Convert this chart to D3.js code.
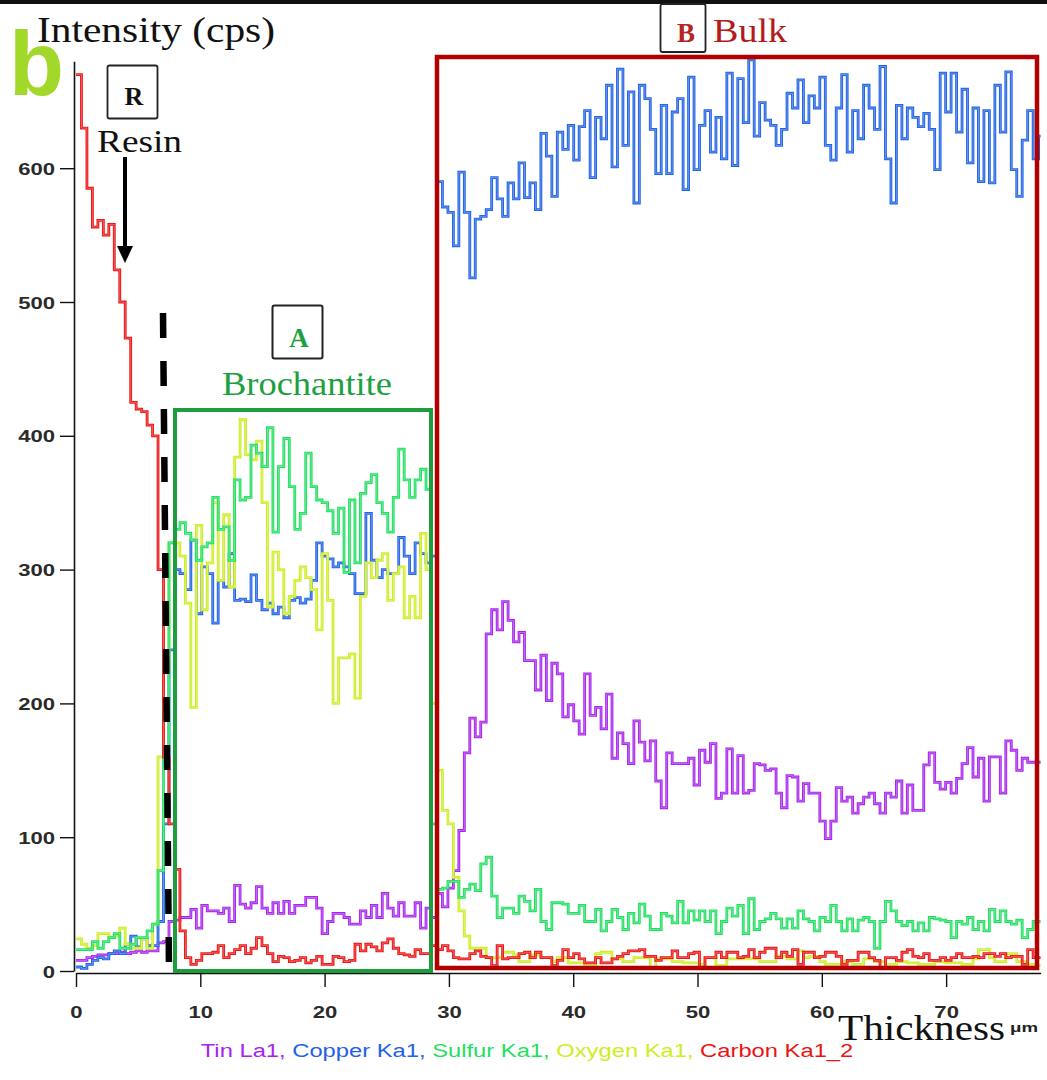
<!DOCTYPE html>
<html>
<head>
<meta charset="utf-8">
<script src="https://cdn.jsdelivr.net/npm/d3@7"></script>
<style>
  html, body { margin: 0; padding: 0; background: #fff; }
  svg { display: block; }
</style>
</head>
<body>
<script>
// ---------------- DATA ----------------
const STEP_UM = 0.44;               // line-scan step (µm)
const xDomain = [0, 77.6];
const yDomain = [0, 680];
const xTicksMajor = [0, 10, 20, 30, 40, 50, 60, 70];
const yTicksMajor = [0, 100, 200, 300, 400, 500, 600];
const legendNames = ["Tin La1", "Copper Ka1", "Sulfur Ka1", "Oxygen Ka1", "Carbon Ka1_2"];

const tinLa1 = [
  8, 8, 10, 11, 12, 12, 13, 13, 14, 13, 14, 15, 14, 15, 15,
  21, 22, 37, 38,
  40, 40, 46, 32, 49, 45, 45, 43, 47, 37,
  64, 50, 47, 51, 63, 47, 43, 51, 43, 52,
  43, 49, 49, 55, 55, 47, 28, 37, 43, 43,
  40, 35, 35, 45, 40, 49, 40, 58, 47, 41,
  51, 41, 41, 51, 32, 47,
  40, 58, 48, 62, 75, 105,
  163, 189, 175, 186, 252, 270, 255, 276, 262, 246,
  253, 232, 232, 210, 236, 202, 230, 222, 190, 199,
  187, 177, 222, 191, 197, 181, 207, 159, 178, 170,
  155, 187, 171, 157, 172, 142, 122, 163, 155, 155,
  155, 159, 139, 165, 156, 170, 129, 133, 166, 133,
  161,
  133, 135, 155, 154, 150, 151, 133, 122, 146, 145,
  127, 140, 133, 133, 112, 99, 112, 137, 127, 130,
  118, 125, 130, 133, 125, 118, 133, 130, 142, 118,
  139, 120, 120, 154, 163, 141, 136, 141, 133, 144,
  155, 167, 145, 159, 127, 160, 160, 133, 172, 165,
  150, 159, 156, 156, 156
];

const copperKa1 = [
  3, 2, 5, 8, 10, 9, 13, 15, 13, 20, 26, 18, 24, 19, 19,
  37, 110, 240, 300,
  297, 285, 322, 267, 302, 297, 260, 292, 287, 312,
  277, 278, 276, 296, 277, 270, 275, 267, 272, 264,
  277, 279, 275, 278, 292, 320, 310, 308, 302, 305,
  302, 297, 282, 282, 342, 307, 294, 300, 297, 297,
  324, 310, 297, 320, 312, 305, 310,
  590, 571, 567, 542, 597, 567, 518, 562, 564, 569,
  593, 577, 564, 589, 577, 604, 578, 589, 569, 626,
  609, 579, 627, 614, 632, 606, 631, 643, 593, 638,
  622, 662, 601, 674, 617, 657, 574, 662, 652, 629,
  596, 647, 596, 642, 652, 584, 668, 599, 632, 643,
  612, 638, 607, 671, 602, 667, 634, 681, 624, 649,
  636, 632, 617, 629, 656, 645, 666, 634, 654, 645,
  668, 617, 606, 645, 670, 612, 643, 622, 662, 645,
  629, 676, 607, 574, 647, 622, 645, 638, 631, 641,
  629, 599, 671, 642, 671, 627, 659, 604, 645, 590,
  643, 589, 662, 627, 672, 599, 579, 621, 643, 607,
  624
];

const sulfurKa1 = [
  16, 16, 16, 22, 17, 22, 25, 28, 17, 17, 20, 25, 25, 30, 35,
  75, 165, 320, 330,
  335, 327, 322, 307, 317, 320, 354, 330, 332, 307,
  367, 352, 354, 393, 387, 377, 406, 328, 377, 398,
  362, 330, 342, 387, 362, 352, 350, 344, 327, 346,
  298,
  352, 305, 357, 365, 371, 350, 342, 328, 354, 390, 367, 354, 367, 375, 360,
  110,
  61, 62, 67, 67, 55, 61, 65, 60, 80, 85,
  56, 40, 47, 47, 43, 56, 52, 45, 61, 37,
  31, 51, 51, 50, 43, 43, 49, 37, 37, 46,
  30, 37, 46, 40, 31, 43, 36, 50, 41, 31,
  31, 43, 41, 36, 52, 36, 45, 38, 45, 37,
  45, 28, 37, 47, 41, 49, 28,
  54, 31, 37, 39, 43, 39, 32, 39, 32, 45,
  39, 37, 30, 40, 37, 49, 37, 30, 39, 30,
  38, 40, 37, 17, 37, 52, 45, 37, 34, 37,
  30, 36, 30, 40, 39, 38, 37, 25, 37, 35,
  40, 31, 37, 30, 46, 37, 45, 37, 35, 38,
  25, 31, 37, 37
];

const oxygenKa1 = [
  24, 20, 17, 19, 28, 28, 25, 26, 32, 20, 17, 17, 24, 17, 35,
  160, 230, 320, 320,
  310, 275, 197, 333, 270, 305, 350, 292, 341, 287,
  384, 412, 386, 382, 396, 350, 272, 313, 300, 267,
  280, 292, 302, 294, 285, 255, 312, 277, 200, 234,
  234, 237, 204, 280, 305, 294, 307, 312, 277, 297,
  302, 264, 280, 264, 327, 300,
  200, 150, 120, 110, 70, 45, 26, 17, 17, 17, 10, 10, 10, 14, 14, 12,
  7, 7, 12, 12, 10, 10, 7, 10, 10, 6,
  6, 6, 4, 4, 13, 14, 14, 9, 9, 7,
  7, 10, 10, 10, 2, 9, 9, 9, 7, 7,
  6, 6, 6, 5, 10, 10, 4, 4, 9, 9,
  9, 9,
  9, 9, 7, 7, 7, 11, 11, 9, 9, 15,
  10, 11, 11, 7, 5, 5, 5, 7, 7, 5,
  5, 9, 9, 7, 7, 5, 5, 7, 7, 6,
  6, 5, 5, 5, 7, 7, 6, 6, 6, 5,
  5, 9, 16, 16, 10, 7, 7, 13, 13, 7,
  7, 5, 4, 4
];

const carbonKa1 = [
  670, 630, 585, 556, 561, 550, 558, 524, 500, 473, 425, 420, 418, 408, 400, 300, 160, 110, 76,
  30, 10, 5, 8, 13, 13, 14, 19, 10, 13,
  16, 19, 13, 17, 25, 19, 13, 7, 11, 10,
  7, 8, 10, 6, 8, 11, 5, 5, 11, 10,
  7, 8, 20, 15, 20, 18, 15, 21, 24, 17,
  13, 12, 11, 16, 13, 13,
  19, 16, 19, 15, 10, 9, 9, 13, 15, 11,
  10, 4, 19, 9, 10, 10, 13, 14, 10, 14,
  10, 10, 4, 8, 16, 10, 13, 9, 6, 6,
  10, 6, 6, 9, 11, 13, 15, 15, 16, 11,
  11, 8, 10, 10, 15, 10, 10, 13, 14, 2,
  10, 10, 14, 10, 14, 14, 10, 11, 16, 10,
  14, 17, 17, 10, 14, 11, 16, 5, 14, 14,
  10, 11, 14, 14, 11, 5, 8, 8, 14, 14,
  10, 8, 2, 10, 10, 8, 14, 16, 11, 10,
  13, 8, 8, 10, 8, 10, 13, 10, 10, 11,
  10, 13, 13, 11, 13, 10, 11, 11, 5, 16,
  10, 10
];

const thickness = d3.range(tinLa1.length).map(i => +(i * STEP_UM).toFixed(2));

const seriesColors = ["#a823ee", "#1f62e6", "#1fe05f", "#cdee22", "#ec1313"];
const seriesValues = [tinLa1, copperKa1, sulfurKa1, oxygenKa1, carbonKa1];
const drawOrder = [0, 1, 3, 2, 4];

// ---------------- DRAW ----------------
const W = 1047, H = 1080;
const svg = d3.select("body").append("svg").attr("width", W).attr("height", H);

const x = d3.scaleLinear().domain(xDomain).range([76, 1040.6]);
const y = d3.scaleLinear().domain(yDomain).range([971, 971 - 680 * 1.338]);

const serif = "'Liberation Serif', 'Times New Roman', serif";
const sans = "'Liberation Sans', Arial, sans-serif";

// top black strip
svg.append("rect").attr("x", 0).attr("y", 0).attr("width", W).attr("height", 4).attr("fill", "#111");

// axes
const gy = svg.append("g").attr("transform", "translate(74,0)");
gy.call(d3.axisLeft(y).tickValues(d3.range(0, 680, 10)).tickSize(8).tickSizeOuter(0).tickFormat(""));
gy.call(d3.axisLeft(y).tickValues(yTicksMajor).tickSize(14).tickSizeOuter(0).tickFormat(d3.format("d")));
gy.selectAll("path.domain").attr("stroke", "#111").attr("stroke-width", 1.6);
gy.selectAll(".tick line").attr("stroke", "#111").attr("stroke-width", 1.4);
gy.selectAll(".tick text")
  .attr("x", -14.5).attr("dy", "0.36em")
  .attr("transform", "scale(1.3,1)")
  .attr("font-family", sans).attr("font-size", 17).attr("font-weight", "bold").attr("fill", "#2a2a2a");

const gx = svg.append("g").attr("transform", "translate(0,973)");
gx.call(d3.axisBottom(x).tickValues(d3.range(0, 78, 1)).tickSize(9).tickSizeOuter(0).tickFormat(""));
gx.call(d3.axisBottom(x).tickValues(xTicksMajor).tickSize(14).tickSizeOuter(0).tickFormat(d3.format("d")));
gx.selectAll("path.domain").attr("stroke", "#111").attr("stroke-width", 1.6);
gx.selectAll(".tick line").attr("stroke", "#111").attr("stroke-width", 1.4);
gx.selectAll(".tick text")
  .attr("y", 45).attr("dy", 0)
  .attr("transform", "scale(1.3,1)")
  .attr("font-family", sans).attr("font-size", 17).attr("font-weight", "bold").attr("fill", "#2a2a2a");

// series (step lines, drawn with a pale core like the scanned profile)
const line = d3.line()
  .x(d => x(d[0]))
  .y(d => y(d[1]))
  .curve(d3.curveStepAfter);

drawOrder.forEach(k => {
  const vals = seriesValues[k];
  const pts = thickness.map((t, i) => [t, vals[i]]);
  pts.push([xDomain[1], vals[vals.length - 1]]);
  const g = svg.append("g");
  g.append("path")
    .datum(pts)
    .attr("d", line)
    .attr("fill", "none")
    .attr("stroke", seriesColors[k])
    .attr("stroke-width", 2.8)
    .attr("stroke-linejoin", "miter");
  g.append("path")
    .datum(pts)
    .attr("d", line)
    .attr("fill", "none")
    .attr("stroke", "#ffffff")
    .attr("stroke-opacity", 0.35)
    .attr("stroke-width", 0.9);
});

// region boxes
svg.append("rect").attr("x", 175).attr("y", 410).attr("width", 256).attr("height", 561)
  .attr("fill", "none").attr("stroke", "#1d9d3d").attr("stroke-width", 4);
svg.append("rect").attr("x", 437).attr("y", 57).attr("width", 600).attr("height", 911)
  .attr("fill", "none").attr("stroke", "#b20000").attr("stroke-width", 4.5);

// dashed boundary line
svg.append("line").attr("x1", 163).attr("y1", 313).attr("x2", 169).attr("y2", 970)
  .attr("stroke", "#000").attr("stroke-width", 6.5).attr("stroke-dasharray", "25,23");

// panel letter
svg.append("text").attr("x", 9).attr("y", 95).text("b")
  .attr("font-family", sans).attr("font-weight", "bold").attr("font-size", 90).attr("fill", "#a2d82a");

// axis titles
svg.append("text").attr("x", 37).attr("y", 42).text("Intensity (cps)")
  .attr("font-family", serif).attr("font-size", 36).attr("fill", "#111")
  .attr("textLength", 238).attr("lengthAdjust", "spacingAndGlyphs");
svg.append("text").attr("x", 838).attr("y", 1040).text("Thickness")
  .attr("font-family", serif).attr("font-size", 36).attr("fill", "#111")
  .attr("textLength", 167).attr("lengthAdjust", "spacingAndGlyphs");
svg.append("text").attr("x", 1010).attr("y", 1032).text("μm")
  .attr("font-family", sans).attr("font-weight", "bold").attr("font-size", 13).attr("fill", "#222")
  .attr("textLength", 28).attr("lengthAdjust", "spacingAndGlyphs");

// R : Resin
svg.append("rect").attr("x", 107.5).attr("y", 65.5).attr("width", 50).attr("height", 53).attr("rx", 2)
  .attr("fill", "#fff").attr("stroke", "#222").attr("stroke-width", 1.8);
svg.append("text").attr("x", 134).attr("y", 105).attr("text-anchor", "middle").text("R")
  .attr("font-family", serif).attr("font-weight", "bold").attr("font-size", 26).attr("fill", "#111");
svg.append("text").attr("x", 97).attr("y", 152).text("Resin")
  .attr("font-family", serif).attr("font-size", 31).attr("fill", "#111")
  .attr("textLength", 85).attr("lengthAdjust", "spacingAndGlyphs");
svg.append("line").attr("x1", 125).attr("y1", 157).attr("x2", 125).attr("y2", 250)
  .attr("stroke", "#000").attr("stroke-width", 4);
svg.append("path").attr("d", "M117,246 L133,246 L125,263 Z").attr("fill", "#000");

// A : Brochantite
svg.append("rect").attr("x", 272.5).attr("y", 305.5).attr("width", 50).attr("height", 53).attr("rx", 2)
  .attr("fill", "#fff").attr("stroke", "#222").attr("stroke-width", 2);
svg.append("text").attr("x", 299).attr("y", 347).attr("text-anchor", "middle").text("A")
  .attr("font-family", serif).attr("font-weight", "bold").attr("font-size", 27).attr("fill", "#1da040");
svg.append("text").attr("x", 222).attr("y", 395).text("Brochantite")
  .attr("font-family", serif).attr("font-size", 33).attr("fill", "#1da040")
  .attr("textLength", 170).attr("lengthAdjust", "spacingAndGlyphs");

// B : Bulk
svg.append("rect").attr("x", 660.5).attr("y", 4).attr("width", 45).attr("height", 48).attr("rx", 2)
  .attr("fill", "#fff").attr("stroke", "#222").attr("stroke-width", 1.8);
svg.append("text").attr("x", 686).attr("y", 42).attr("text-anchor", "middle").text("B")
  .attr("font-family", serif).attr("font-weight", "bold").attr("font-size", 27).attr("fill", "#b52525");
svg.append("text").attr("x", 713).attr("y", 42).text("Bulk")
  .attr("font-family", serif).attr("font-size", 34).attr("fill", "#b31b1b")
  .attr("textLength", 74).attr("lengthAdjust", "spacingAndGlyphs");

// legend
const legend = svg.append("text")
  .attr("transform", "translate(527,1057) scale(1.32,1)")
  .attr("text-anchor", "middle")
  .attr("font-family", sans).attr("font-size", 18);
legendNames.forEach((name, k) => {
  legend.append("tspan").attr("fill", seriesColors[k]).text(name + (k < legendNames.length - 1 ? ", " : ""));
});
</script>
</body>
</html>
